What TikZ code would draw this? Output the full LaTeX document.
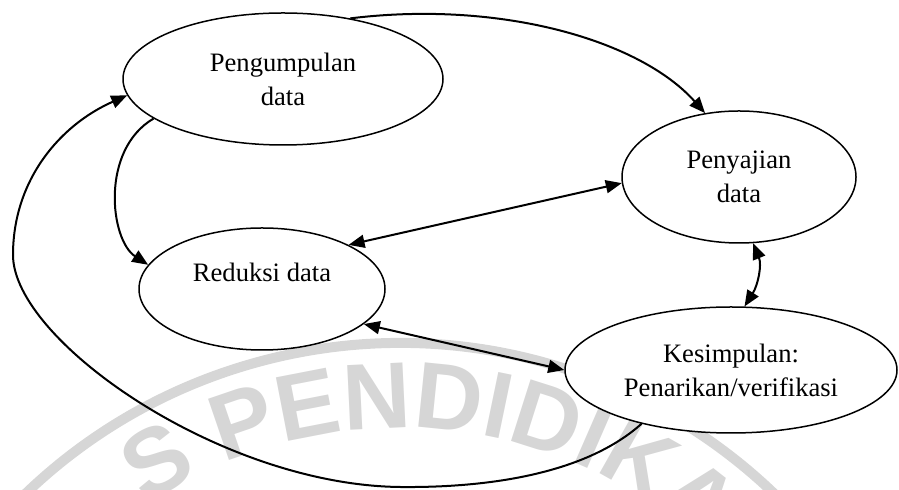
\documentclass[tikz,border=0pt]{standalone}
\usepackage{fontspec}
\setmainfont{Liberation Serif}
\newfontfamily\wmfont{Liberation Sans}
\definecolor{wmGray}{HTML}{D6D6D6}
\usetikzlibrary{arrows.meta,shapes.geometric,decorations.text}

\begin{document}
\begin{tikzpicture}[x=0.5pt,y=-0.5pt,
  oval/.style={ellipse,draw,line width=0.75pt,fill=white,inner sep=0pt,
               font=\fontsize{13.3}{17}\selectfont,align=center},
  arr/.style={-{Triangle[length=8pt,width=6.5pt]},line width=1pt},
  darr/.style={{Triangle[length=8pt,width=6.5pt]}-{Triangle[length=8pt,width=6.5pt]},line width=1pt}
]
  \useasboundingbox (0,0) rectangle (899,490);

  % seal watermark behind the diagram
  \begin{scope}
    \clip (0,0) rectangle (899,490);
    \coordinate (seal) at (400,883);
    \path (seal) ++(150:270pt) coordinate (ringstart);
    \path (seal) ++(124:227.5pt) coordinate (wmstart);
    \draw[wmGray,line width=5pt] (ringstart) arc[start angle=150,end angle=20,radius=270pt];
    \path[decorate,decoration={text along path,
        text={|\wmfont\bfseries\fontsize{47}{47}\selectfont\color{wmGray}|S PENDIDIKAN}}]
      (wmstart) arc[start angle=124,end angle=15,radius=227.5pt];
  \end{scope}

  % Stages
  \node[oval,minimum width=160pt,minimum height=66pt] (pg) at (283,79)  {Pengumpulan\\data};
  \node[oval,minimum width=117pt,minimum height=66pt] (pj) at (739,177) {Penyajian\\data};
  \node[oval,minimum width=123pt,minimum height=61pt] (rd) at (262,289) {Reduksi data\\\mbox{}};
  \node[oval,minimum width=166pt,minimum height=63pt] (ks) at (731,370) {Kesimpulan:\\Penarikan/verifikasi};

  % Flows
  \draw[arr] (pg.42) .. controls (500,0) and (640,40) .. (pj.118);
  \draw[arr] (pg.197) .. controls (100,150) and (110,240) .. (rd.168);
  \draw[darr] (rd.27) -- (pj.183);
  \draw[darr] (rd.341) -- (ks.180);
  \draw[darr] (pj.282) .. controls (762,265) and (758,285) .. (ks.78);

  % Loop back
  \coordinate (loopB) at (400,487);
  \coordinate (loopL) at (13,255);
  \draw[arr] (ks.211) .. controls (590,470) and (500,488) .. (loopB)
    .. controls (220,485) and (13,340) .. (loopL)
    .. controls (13,180) and (60,125) .. (pg.186);
\end{tikzpicture}
\end{document}
